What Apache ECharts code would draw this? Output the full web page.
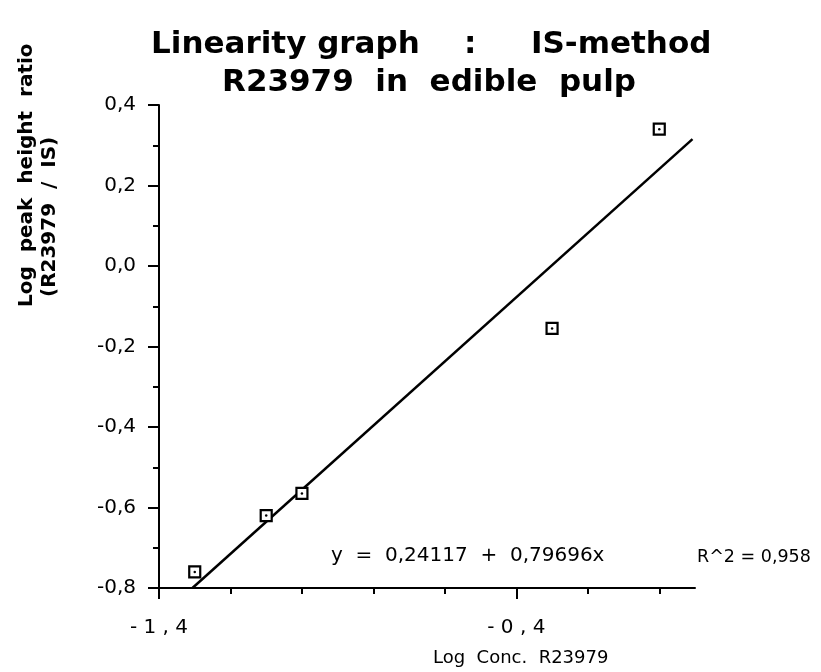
<!DOCTYPE html>
<html>
<head>
<meta charset="utf-8">
<script src="https://cdn.jsdelivr.net/npm/echarts@6/dist/echarts.min.js"></script>
<style>
  html, body { margin: 0; padding: 0; background: #fff; }
  #chart { width: 821px; height: 672px; }
</style>
</head>
<body>
<div id="chart"></div>
<script>
// Measured points: log concentration vs log peak height ratio
const logConc = [-1.3, -1.1, -1.0, -0.3, 0.0];
const logRatio = [-0.76, -0.62, -0.565, -0.155, 0.34];

// Least-squares fit reported on the plot
const fitIntercept = 0.24117;
const fitSlope = 0.79696;
const fitR2 = 0.958;

// Axis ranges and tick values
const xMin = -1.4, xMax = 0.1, xStep = 0.2;
const yMin = -0.8, yMax = 0.4, yStep = 0.2;
const xTickValues = [-1.4, -1.2, -1.0, -0.8, -0.6, -0.4, -0.2, 0.0];
const xLabelValues = [-1.4, -0.4];

const FONT = '"DejaVu Sans", Verdana, sans-serif';
const comma = v => v.toFixed(1).replace('.', ',');
const fmtNum = v => v.toFixed(5).replace('.', ',');

// Fit line drawn from where it meets the bottom of the plot to its end
const fitStartX = (yMin - fitIntercept) / fitSlope;
const fitEndX = 0.093;
const fitLine = [fitStartX, fitEndX].map(x => [x, fitIntercept + fitSlope * x]);

const titleStyle = { fontFamily: FONT, fontSize: 31, fontWeight: 'bold', color: '#000' };
const noteStyle = { fontFamily: FONT, fontSize: 20, fontWeight: 'normal', color: '#000' };

const chart = echarts.init(document.getElementById('chart'), null, { renderer: 'canvas' });

chart.setOption({
  backgroundColor: '#fff',
  animation: false,
  title: [
    { text: 'Linearity graph', left: 146, top: 24, textStyle: titleStyle },
    { text: ':', left: 459, top: 24, textStyle: titleStyle },
    { text: 'IS-method', left: 526, top: 24, textStyle: titleStyle },
    { text: 'R23979  in  edible  pulp', left: 424, top: 62, textAlign: 'center', textStyle: titleStyle },
    {
      text: 'y  =  ' + fmtNum(fitIntercept) + '  +  ' + fmtNum(fitSlope) + 'x',
      left: 326, top: 541, textStyle: noteStyle
    },
    {
      text: 'R^2 = ' + fitR2.toFixed(3).replace('.', ','),
      left: 692, top: 543,
      textStyle: { fontFamily: FONT, fontSize: 17.5, fontWeight: 'normal', color: '#000' }
    },
    {
      text: 'Log  Conc.  R23979',
      left: 428, top: 644,
      textStyle: { fontFamily: FONT, fontSize: 18, fontWeight: 'normal', color: '#000' }
    }
  ],
  graphic: [
    {
      type: 'text',
      x: 17, y: 307, rotation: Math.PI / 2,
      style: {
        text: 'Log  peak  height  ratio',
        font: 'bold 20px ' + FONT,
        fill: '#000', align: 'left', verticalAlign: 'top'
      }
    },
    {
      type: 'text',
      x: 40, y: 297, rotation: Math.PI / 2,
      style: {
        text: '(R23979  /  IS)',
        font: 'bold 20px ' + FONT,
        fill: '#000', align: 'left', verticalAlign: 'top'
      }
    }
  ],
  grid: { left: 159, right: 126, top: 105, bottom: 84, containLabel: false },
  xAxis: [
    {
      type: 'value', min: xMin, max: xMax, interval: xStep,
      position: 'bottom',
      splitLine: { show: false },
      axisLine: { show: true, onZero: false, lineStyle: { color: '#000', width: 2 } },
      axisTick: { show: true, inside: false, length: 6, customValues: xTickValues, lineStyle: { color: '#000', width: 2 } },
      axisLabel: { show: false }
    },
    {
      type: 'value', min: xMin, max: xMax, interval: xStep,
      position: 'bottom',
      splitLine: { show: false },
      axisLine: { show: false, onZero: false },
      axisTick: { show: true, inside: false, length: 11, customValues: xLabelValues, lineStyle: { color: '#000', width: 2 } },
      axisLabel: {
        show: true, customValues: xLabelValues, margin: 30,
        formatter: v => comma(v).split('').join(' '),
        fontFamily: FONT, fontSize: 20, color: '#000'
      }
    }
  ],
  yAxis: {
    type: 'value', min: yMin, max: yMax, interval: yStep,
    splitLine: { show: false },
    axisLine: { show: true, onZero: false, lineStyle: { color: '#000', width: 2 } },
    axisTick: { show: true, inside: false, length: 11, lineStyle: { color: '#000', width: 2 } },
    minorTick: { show: true, splitNumber: 2, length: 6, lineStyle: { color: '#000', width: 2 } },
    axisLabel: {
      margin: 23, formatter: v => comma(v),
      fontFamily: FONT, fontSize: 20, color: '#000'
    }
  },
  series: [
    {
      type: 'line',
      data: fitLine,
      symbol: 'none',
      lineStyle: { color: '#000', width: 2.5 },
      z: 2
    },
    {
      type: 'scatter',
      data: logConc.map((x, i) => [x, logRatio[i]]),
      symbol: 'rect', symbolSize: 11,
      itemStyle: { color: '#fff', borderColor: '#000', borderWidth: 2.2, opacity: 1 },
      z: 3
    },
    {
      type: 'scatter',
      data: logConc.map((x, i) => [x, logRatio[i]]),
      symbol: 'circle', symbolSize: 2.5,
      itemStyle: { color: '#000', opacity: 1 },
      z: 4
    }
  ]
});
</script>
</body>
</html>
